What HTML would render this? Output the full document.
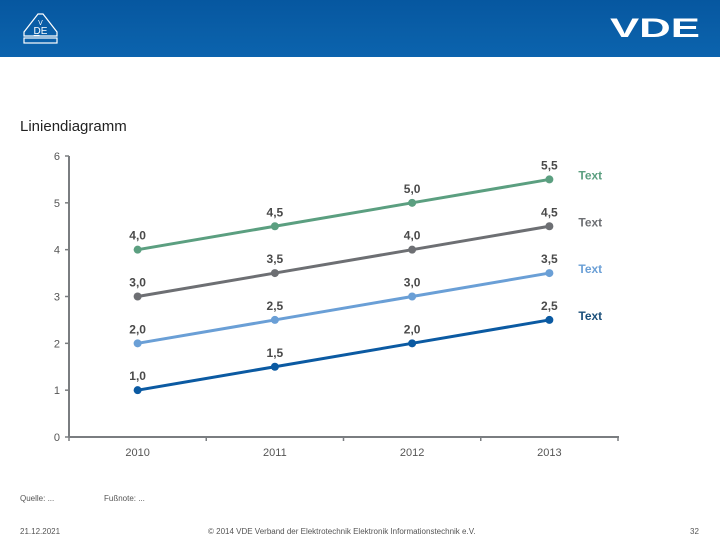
<!DOCTYPE html>
<html><head><meta charset="utf-8"><style>
body{margin:0;width:720px;height:540px;overflow:hidden;background:#fff;font-family:"Liberation Sans",sans-serif;position:relative}
.hdr{position:absolute;left:0;top:0;width:720px;height:57px;background:linear-gradient(180deg,#0657a0 0%,#0a5fa8 60%,#0b63ae 100%)}
.t{position:absolute;font-size:8px;color:#555}
</style></head><body>
<div class="hdr">
<svg width="720" height="57">
<g fill="none" stroke="#fff" stroke-width="1.2">
<path d="M38 14 L24 32 L24 36 L57 36 L57 32 L43 14 Z"/>
<rect x="24" y="38" width="33" height="5"/>
<text x="40.5" y="34" font-size="10" fill="#fff" stroke="none" text-anchor="middle" font-family="Liberation Sans">D̲E</text>
<text x="40.5" y="25" font-size="7" fill="#fff" stroke="none" text-anchor="middle" font-family="Liberation Sans">V</text>
</g>
<text x="610" y="37" fill="#fff" font-size="27" font-weight="bold" textLength="90" lengthAdjust="spacingAndGlyphs" font-family="Liberation Sans">VDE</text>
</svg></div>
<div style="position:absolute;left:20px;top:118px;font-size:15px;color:#222">Liniendiagramm</div>
<svg id="chart" width="720" height="540" style="position:absolute;left:0;top:0"></svg>
<div class="t" style="left:20px;top:494px">Quelle: ...</div>
<div class="t" style="left:104px;top:494px">Fußnote: ...</div>
<div class="t" style="left:20px;top:527px">21.12.2021</div>
<div class="t" style="left:208px;top:527px">© 2014 VDE Verband der Elektrotechnik Elektronik Informationstechnik e.V.</div>
<div class="t" style="left:690px;top:527px">32</div>
<script>
const categories=["2010","2011","2012","2013"];
const seriesA=[4.0,4.5,5.0,5.5];
const seriesB=[3.0,3.5,4.0,4.5];
const seriesC=[2.0,2.5,3.0,3.5];
const seriesD=[1.0,1.5,2.0,2.5];
const yTicks=[0,1,2,3,4,5,6];
const seriesNames=["Text","Text","Text","Text"];
const colors=["#5b9f80","#6d6f73","#6a9fd6","#0b5aa2"];
const labelColors=["#5b9f80","#6d6f73","#6a9fd6","#1a4f7a"];
const NS="http://www.w3.org/2000/svg";
const svg=document.getElementById('chart');
const x0=69,x1=618,yTop=156,yBot=437;
const y=v=>yBot-(v/6)*(yBot-yTop);
const band=(x1-x0)/categories.length;
const x=i=>x0+band*(i+0.5);
function mk(t,a){const e=document.createElementNS(NS,t);for(const k in a)e.setAttribute(k,a[k]);svg.appendChild(e);return e;}
const axisColor="#7a7d80";
let e=mk('line',{x1:x0,y1:yTop,x2:x0,y2:yBot,stroke:axisColor,'stroke-width':2});


e=mk('line',{x1:x0,y1:yBot,x2:x1+1,y2:yBot,stroke:axisColor,'stroke-width':2});


yTicks.forEach(v=>{
 let tk=mk('line',{x1:x0-4,y1:y(v),x2:x0,y2:y(v),stroke:axisColor,'stroke-width':1.5});
 
 
 let t=mk('text',{x:x0-9,y:y(v)+4,'font-size':11,fill:'#555','text-anchor':'end','font-family':'Liberation Sans'});
 t.textContent=v;
 
 
});
for(let i=0;i<=categories.length;i++){
 let tk=mk('line',{x1:x0+band*i,y1:yBot,x2:x0+band*i,y2:yBot+4,stroke:axisColor,'stroke-width':1.5});
 
 
}
categories.forEach((c,i)=>{
 let t=mk('text',{x:x(i),y:yBot+19,'font-size':11,fill:'#555','text-anchor':'middle','font-family':'Liberation Sans'});
 t.textContent=c;
 
 
});
[seriesA,seriesB,seriesC,seriesD].forEach((s,si)=>{
 let p=mk('polyline',{points:s.map((v,i)=>x(i)+','+y(v)).join(' '),fill:'none',stroke:colors[si],'stroke-width':3});
 
 
 s.forEach((v,i)=>{
  let c=mk('circle',{cx:x(i),cy:y(v),r:4,fill:colors[si]});
  
  
  let t=mk('text',{x:x(i),y:y(v)-10,'font-size':12,'font-weight':'bold',fill:'#4a4a4a','text-anchor':'middle','font-family':'Liberation Sans'});
  t.textContent=v.toFixed(1).replace('.',',');
  
  
 });
 let n=s.length-1;
 let lt=mk('text',{x:x(n)+29,y:y(s[n]),'font-size':12,'font-weight':'bold',fill:labelColors[si],'font-family':'Liberation Sans'});
 lt.textContent=seriesNames[si];
 
 
});
</script>
</body></html>
